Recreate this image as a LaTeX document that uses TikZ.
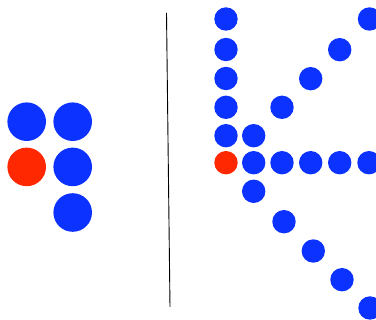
\documentclass[tikz,border=0pt]{standalone}
\definecolor{dotblue}{RGB}{12,50,255}
\definecolor{dotred}{RGB}{255,40,0}
\tikzset{
  big/.style={circle,inner sep=0pt,minimum size=38.6pt,fill=dotblue},
  small/.style={circle,inner sep=0pt,minimum size=23.4pt,fill=dotblue},
  hot/.style={fill=dotred}
}
\begin{document}
\begin{tikzpicture}[x=1pt,y=-1pt]
\useasboundingbox (0,0) rectangle (376,320);
\clip (0,0) rectangle (376,320);
% left cluster
\node[big] (a1) at (26.7,121.7) {};
\node[big] (a2) at (72.7,121.7) {};
\node[big,hot] (a3) at (26.7,166.9) {};
\node[big] (a4) at (72.7,166.9) {};
\node[big] (a5) at (72.7,212.5) {};
% separator
\coordinate (s1) at (166.5,13);
\coordinate (s2) at (170,307);
\draw[line width=0.9pt] (s1) -- (s2);
% right: vertical column
\node[small] (v1) at (226,19) {};
\node[small] (v2) at (226,49.5) {};
\node[small] (v3) at (226,78.5) {};
\node[small] (v4) at (226,107.3) {};
\node[small] (v5) at (226,135.7) {};
\node[small,hot] (c) at (226,162.7) {};
% upper diagonal
\node[small] (u1) at (253.7,135.7) {};
\node[small] (u2) at (282,107.3) {};
\node[small] (u3) at (310.7,78.7) {};
\node[small] (u4) at (339.7,49.7) {};
\node[small] (u5) at (369.5,19) {};
% horizontal row
\node[small] (h1) at (253.7,162.7) {};
\node[small] (h2) at (282,162.7) {};
\node[small] (h3) at (310.7,162.7) {};
\node[small] (h4) at (339.7,162.7) {};
\node[small] (h5) at (369,162.7) {};
% lower diagonal
\node[small] (d1) at (253.7,191.3) {};
\node[small] (d2) at (284,221.7) {};
\node[small] (d3) at (313.3,251) {};
\node[small] (d4) at (342,279.7) {};
\node[small] (d5) at (370,308) {};
\end{tikzpicture}
\end{document}
